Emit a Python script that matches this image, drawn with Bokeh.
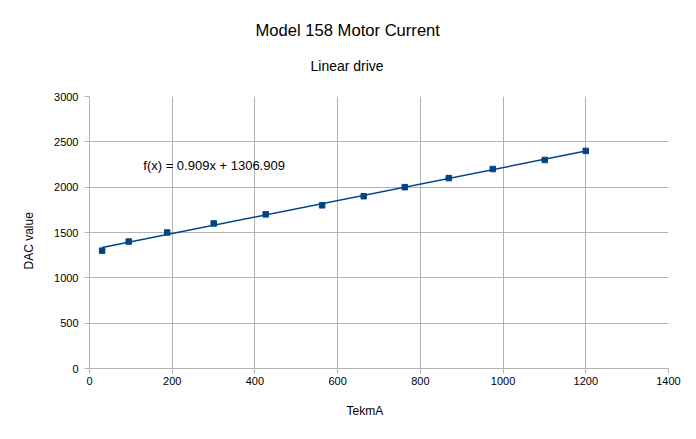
import math
from bokeh.plotting import figure
from bokeh.models import Title, Range1d, FixedTicker, ColumnDataSource, Label
from bokeh.embed import file_html
from bokeh.resources import INLINE

# ---- data ----
tek_ma = [30.5, 94.8, 187.7, 300.4, 426.1, 562.5, 663.1, 762.3, 868.7, 975.1, 1100.8, 1200]
dac_value = [1300, 1400, 1500, 1600, 1700, 1800, 1900, 2000, 2100, 2200, 2300, 2400]
trend_slope = 0.909
trend_intercept = 1306.909
x_ticks = [0, 200, 400, 600, 800, 1000, 1200, 1400]
y_ticks = [0, 500, 1000, 1500, 2000, 2500, 3000]

title_text = "Model 158 Motor Current"
subtitle_text = "Linear drive"
x_label = "TekmA"
y_label = "DAC value"
eq_text = "f(x) = 0.909x + 1306.909"

FONT = "Liberation Sans"
BLUE = "#004586"
GRID = "#b3b3b3"

p = figure(width=688, height=431, output_backend="svg", toolbar_location=None, title=None,
           x_range=Range1d(0, 1400), y_range=Range1d(0, 3000),
           min_border_left=89, min_border_right=20, min_border_top=96, min_border_bottom=62)
p.outline_line_color = None
p.background_fill_color = "white"
p.border_fill_color = "white"

for ax in (p.xaxis[0], p.yaxis[0]):
    ax.axis_line_color = GRID
    ax.major_tick_line_color = GRID
    ax.major_tick_out = 5
    ax.major_tick_in = 0
    ax.minor_tick_line_color = None
    ax.major_label_text_font = FONT
    ax.major_label_text_font_size = "11px"
    ax.major_label_text_color = "#000000"
p.xaxis[0].ticker = FixedTicker(ticks=x_ticks)
p.yaxis[0].ticker = FixedTicker(ticks=y_ticks)
p.xaxis[0].major_label_standoff = 3
p.yaxis[0].major_label_standoff = 6

p.xgrid.ticker = FixedTicker(ticks=x_ticks)
p.ygrid.ticker = FixedTicker(ticks=y_ticks)
p.xgrid.grid_line_color = GRID
p.ygrid.grid_line_color = GRID

# trend line over data range
xs = [min(tek_ma), max(tek_ma)]
ys = [trend_slope * v + trend_intercept for v in xs]
p.line(xs, ys, line_color=BLUE, line_width=1.5)

src = ColumnDataSource(dict(x=tek_ma, y=dac_value))
p.scatter("x", "y", source=src, marker="square", size=5.5, fill_color=BLUE, line_color=BLUE)

p.add_layout(Label(x=130, y=2242, text=eq_text, text_font=FONT, text_font_size="13px",
                   text_baseline="middle", text_align="left", text_color="#000000"))

# titles (first added "above" sits closest to the frame)
p.add_layout(Title(text=subtitle_text, align="left", offset=221, standoff=45,
                   text_font=FONT, text_font_size="14px", text_font_style="normal",
                   text_color="#000000"), "above")
p.add_layout(Title(text=title_text, align="left", offset=166, standoff=-13,
                   text_font=FONT, text_font_size="16.6px", text_font_style="normal",
                   text_color="#000000"), "above")
p.add_layout(Title(text=x_label, align="left", offset=257, standoff=28,
                   text_font=FONT, text_font_size="12px", text_font_style="normal",
                   text_color="#000000"), "below")
p.add_layout(Title(text=y_label, align="left", offset=99, standoff=31,
                   text_font=FONT, text_font_size="12px", text_font_style="normal",
                   text_color="#000000"), "left")

open("out.html", "w").write(file_html(p, INLINE))
